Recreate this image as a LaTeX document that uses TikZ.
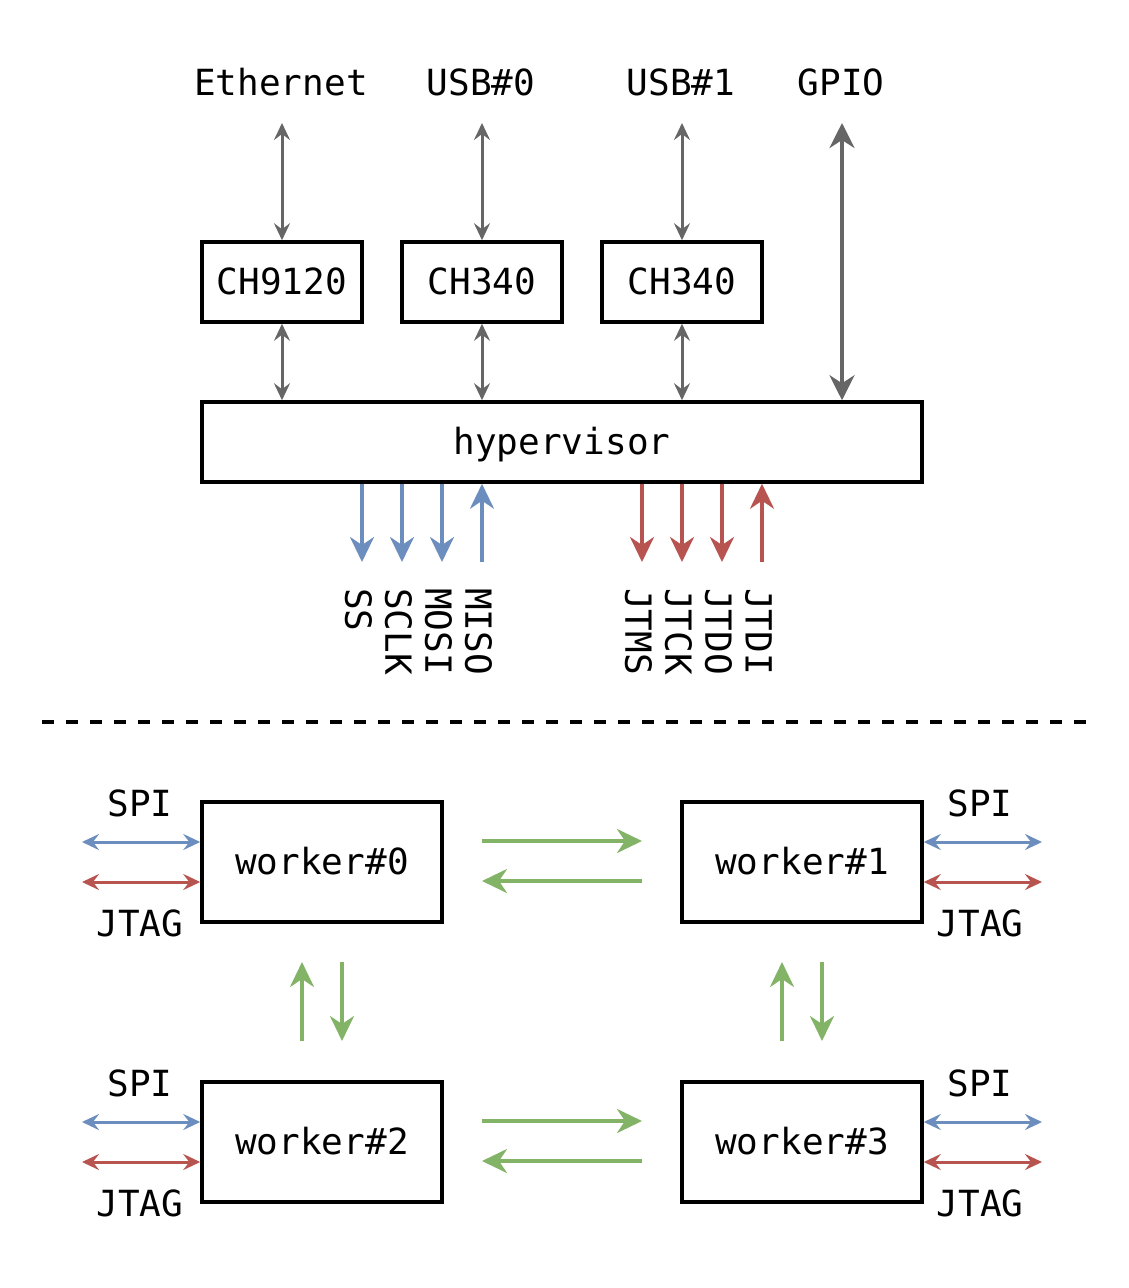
\documentclass[tikz,border=0pt]{standalone}
\usepackage{fontspec}
\setmonofont{DejaVu Sans Mono}
\usetikzlibrary{arrows.meta}
\definecolor{cgray}{HTML}{666666}
\definecolor{cblue}{HTML}{6C8EBF}
\definecolor{cred}{HTML}{B85450}
\definecolor{cgreen}{HTML}{82B366}
\begin{document}
\begin{tikzpicture}[x=1pt,y=-1pt,
  every node/.style={font=\ttfamily\fontsize{36}{40}\selectfont, inner sep=0pt},
  box/.style={draw, line width=3.5pt, text height=25pt, text depth=0pt},
  chip/.style={box, minimum width=160pt, minimum height=80pt},
  worker/.style={box, minimum width=240pt, minimum height=120pt},
  lbl/.style={anchor=base},
  vlbl/.style={rotate=-90, anchor=west},
  grayarr/.style={draw=cgray, line width=3pt, {Stealth[length=17pt,width=16pt,inset=6pt]}-{Stealth[length=17pt,width=16pt,inset=6pt]}},
  gpioarr/.style={draw=cgray, line width=4pt, {Stealth[length=25pt,width=25pt,inset=8pt]}-{Stealth[length=25pt,width=25pt,inset=8pt]}},
  sigarr/.style={line width=3.5pt, -{Stealth[length=25pt,width=24pt,inset=8pt]}},
  busarr/.style={line width=3pt, {Stealth[length=17pt,width=16pt,inset=6pt]}-{Stealth[length=17pt,width=16pt,inset=6pt]}},
]
\useasboundingbox (0,0) rectangle (1128,1288);

% ---------- top part ----------
\node[lbl] (eth)  at (281,95) {Ethernet};
\node[lbl] (usb0) at (481,95) {USB\#0};
\node[lbl] (usb1) at (681,95) {USB\#1};
\node[lbl] (gpio) at (841,95) {GPIO};

\node[chip] (ch1) at (282,282) {CH9120};
\node[chip] (ch2) at (482,282) {CH340};
\node[chip] (ch3) at (682,282) {CH340};

\node[box, minimum width=720pt, minimum height=80pt] (hyp) at (562,442) {hypervisor};

\coordinate (ethA)  at (282,123);
\coordinate (usb0A) at (482,123);
\coordinate (usb1A) at (682,123);
\coordinate (gpioA) at (842,123);

\draw[grayarr] (ethA)  -- (ch1.north);
\draw[grayarr] (usb0A) -- (ch2.north);
\draw[grayarr] (usb1A) -- (ch3.north);
\draw[grayarr] (ch1.south) -- (ch1.south |- hyp.north);
\draw[grayarr] (ch2.south) -- (ch2.south |- hyp.north);
\draw[grayarr] (ch3.south) -- (ch3.south |- hyp.north);
\draw[gpioarr] (gpioA) -- (gpioA |- hyp.north);

% SPI signals
\coordinate (ssE)   at (362,562);
\coordinate (sclkE) at (402,562);
\coordinate (mosiE) at (442,562);
\coordinate (misoE) at (482,562);
\draw[sigarr, cblue] (ssE |- hyp.south) -- (ssE);
\draw[sigarr, cblue] (sclkE |- hyp.south) -- (sclkE);
\draw[sigarr, cblue] (mosiE |- hyp.south) -- (mosiE);
\draw[sigarr, cblue] (misoE) -- (misoE |- hyp.south);
\node[vlbl] (ss)   at (358.5,588) {SS};
\node[vlbl] (sclk) at (398.5,588) {SCLK};
\node[vlbl] (mosi) at (438.5,588) {MOSI};
\node[vlbl] (miso) at (478.5,588) {MISO};

% JTAG signals
\coordinate (jtmsE) at (642,562);
\coordinate (jtckE) at (682,562);
\coordinate (jtdoE) at (722,562);
\coordinate (jtdiE) at (762,562);
\draw[sigarr, cred] (jtmsE |- hyp.south) -- (jtmsE);
\draw[sigarr, cred] (jtckE |- hyp.south) -- (jtckE);
\draw[sigarr, cred] (jtdoE |- hyp.south) -- (jtdoE);
\draw[sigarr, cred] (jtdiE) -- (jtdiE |- hyp.south);
\node[vlbl] (jtms) at (638.5,588) {JTMS};
\node[vlbl] (jtck) at (678.5,588) {JTCK};
\node[vlbl] (jtdo) at (718.5,588) {JTDO};
\node[vlbl] (jtdi) at (758.5,588) {JTDI};

% separator
\coordinate (sepL) at (42,722);
\coordinate (sepR) at (1086,722);
\draw[line width=4pt, dash pattern=on 12pt off 12pt] (sepL) -- (sepR);

% ---------- bottom part ----------
\node[worker] (w0) at (322,862)  {worker\#0};
\node[worker] (w1) at (802,862)  {worker\#1};
\node[worker] (w2) at (322,1142) {worker\#2};
\node[worker] (w3) at (802,1142) {worker\#3};

% left-side buses
\coordinate (s0) at (82,842);  \coordinate (j0) at (82,882);
\coordinate (s2) at (82,1122); \coordinate (j2) at (82,1162);
\draw[busarr, cblue] (s0) -- (s0 -| w0.west);
\draw[busarr, cred]  (j0) -- (j0 -| w0.west);
\draw[busarr, cblue] (s2) -- (s2 -| w2.west);
\draw[busarr, cred]  (j2) -- (j2 -| w2.west);
\node[lbl] (spi0)  at (140,816)  {SPI};
\node[lbl] (jtag0) at (140,936)  {JTAG};
\node[lbl] (spi2)  at (140,1096) {SPI};
\node[lbl] (jtag2) at (140,1216) {JTAG};

% right-side buses
\coordinate (s1) at (1042,842);  \coordinate (j1) at (1042,882);
\coordinate (s3) at (1042,1122); \coordinate (j3) at (1042,1162);
\draw[busarr, cblue] (s1 -| w1.east) -- (s1);
\draw[busarr, cred]  (j1 -| w1.east) -- (j1);
\draw[busarr, cblue] (s3 -| w3.east) -- (s3);
\draw[busarr, cred]  (j3 -| w3.east) -- (j3);
\node[lbl] (spi1)  at (980,816)  {SPI};
\node[lbl] (jtag1) at (980,936)  {JTAG};
\node[lbl] (spi3)  at (980,1096) {SPI};
\node[lbl] (jtag3) at (980,1216) {JTAG};

% worker links (horizontal)
\coordinate (h0a) at (482,841);  \coordinate (h0b) at (642,841);
\coordinate (h1a) at (642,881);  \coordinate (h1b) at (482,881);
\coordinate (h2a) at (482,1121); \coordinate (h2b) at (642,1121);
\coordinate (h3a) at (642,1161); \coordinate (h3b) at (482,1161);
\draw[sigarr, cgreen] (h0a) -- (h0b);
\draw[sigarr, cgreen] (h1a) -- (h1b);
\draw[sigarr, cgreen] (h2a) -- (h2b);
\draw[sigarr, cgreen] (h3a) -- (h3b);

% worker links (vertical)
\coordinate (v0a) at (302,1041); \coordinate (v0b) at (302,962);
\coordinate (v1a) at (342,962);  \coordinate (v1b) at (342,1041);
\coordinate (v2a) at (782,1041); \coordinate (v2b) at (782,962);
\coordinate (v3a) at (822,962);  \coordinate (v3b) at (822,1041);
\draw[sigarr, cgreen] (v0a) -- (v0b);
\draw[sigarr, cgreen] (v1a) -- (v1b);
\draw[sigarr, cgreen] (v2a) -- (v2b);
\draw[sigarr, cgreen] (v3a) -- (v3b);
\end{tikzpicture}
\end{document}
